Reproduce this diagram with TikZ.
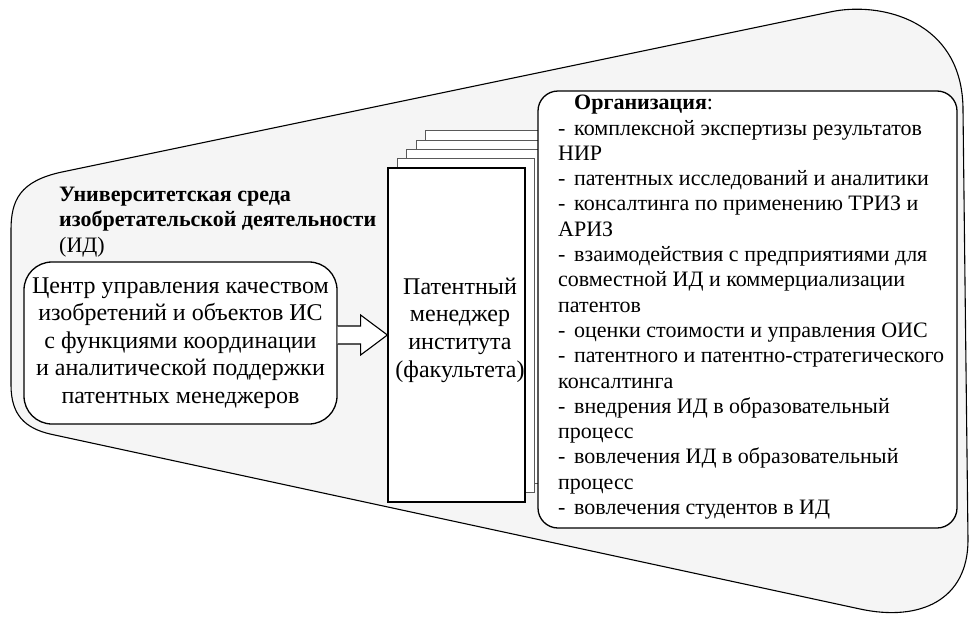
\documentclass[tikz,border=0pt]{standalone}
\usepackage{fontspec}
\setmainfont{Liberation Serif}
\usetikzlibrary{calc}
\newcommand{\dsh}{\makebox[16pt][l]{-}}
\begin{document}
\begin{tikzpicture}[x=1pt,y=-1pt,
  box/.style={draw, line width=1.3pt, fill=white, inner sep=0pt},
  pagebox/.style={draw=black!65, line width=0.7pt, fill=white, inner sep=0pt, minimum width=137pt, minimum height=334pt},
  bigtext/.style={font=\fontsize{24}{27.6}\selectfont, align=center, inner sep=0pt},
  smalltext/.style={font=\fontsize{22}{25.3}\selectfont, align=left, inner sep=0pt},
  envshape/.style={draw, line width=1.1pt, fill=black!4}]
\useasboundingbox (0,0) rectangle (975,624);
% environment shape
\draw[envshape] (62,172) -- (830,12) .. controls (880,1) and (963,20) .. (963,110)
  -- (968,540) .. controls (968,600) and (920,622) .. (860,609)
  -- (50,434) .. controls (25,428) and (11,415) .. (11,385)
  -- (11,230) .. controls (11,200) and (20,181) .. (62,172) -- cycle;
% heading
\node[smalltext, anchor=north west] (env) at (59,187)
  {\textbf{Университетская среда}\\\textbf{изобретательской деятельности}\\(ИД)};
% centre box
\node[box, rounded corners=28pt, minimum width=313pt, minimum height=162pt, bigtext] (cent) at (180.5,343)
  {Центр управления качеством\\изобретений и объектов ИС\\с функциями координации\\и аналитической поддержки\\патентных менеджеров};
% stacked pages
\foreach \k in {4,3,2,1}
  \node[pagebox] (p\k) at ({456.5+9.3*\k},{335-9.3*\k}) {};
\node[box, minimum width=137pt, minimum height=334pt] (pat) at (456.5,335) {};
\node[bigtext] (pattext) at (460,330) {Патентный\\менеджер\\института\\(факультета)};
% block arrow
\coordinate (as) at (cent.east |- pat.west);
\draw[line width=1.1pt, fill=white] ($(as)+(0,9)$) -- ++(23,0) -- ++(0,11) -- (pat.west)
  -- ($(as)+(23,-20)$) -- ++(0,11) -- ($(as)+(0,-9)$);
% organisation box
\node[box, rounded corners=20pt, minimum width=419pt, minimum height=437pt] (org) at (747.5,309.5) {};
\node[smalltext, anchor=north west] (orgtext) at (558,95)
  {\hspace{16pt}\textbf{Организация}:\\
   \dsh комплексной экспертизы результатов\\
   НИР\\
   \dsh патентных исследований и аналитики\\
   \dsh консалтинга по применению ТРИЗ и\\
   АРИЗ\\
   \dsh взаимодействия с предприятиями для\\
   совместной ИД и коммерциализации\\
   патентов\\
   \dsh оценки стоимости и управления ОИС\\
   \dsh патентного и патентно-стратегического\\
   консалтинга\\
   \dsh внедрения ИД в образовательный\\
   процесс\\
   \dsh вовлечения ИД в образовательный\\
   процесс\\
   \dsh вовлечения студентов в ИД};
\end{tikzpicture}
\end{document}
